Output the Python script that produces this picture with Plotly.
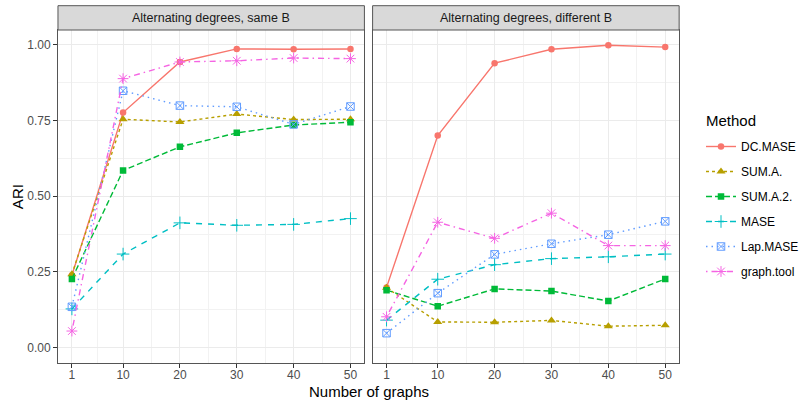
import plotly.graph_objects as go

n_graphs = [1, 10, 20, 30, 40, 50]
methods = ["DC.MASE", "SUM.A.", "SUM.A.2.", "MASE", "Lap.MASE", "graph.tool"]
panel_titles = ["Alternating degrees, same B", "Alternating degrees, different B"]
y_ticks = [0.0, 0.25, 0.5, 0.75, 1.0]
y_tick_labels = ["0.00", "0.25", "0.50", "0.75", "1.00"]

# Panel 1: same B
same_dc_mase = [0.239, 0.776, 0.943, 0.986, 0.985, 0.986]
same_sum_a = [0.242, 0.754, 0.745, 0.771, 0.753, 0.754]
same_sum_a2 = [0.227, 0.585, 0.663, 0.709, 0.735, 0.744]
same_mase = [0.128, 0.309, 0.412, 0.404, 0.407, 0.426]
same_lap_mase = [0.135, 0.848, 0.799, 0.795, 0.737, 0.796]
same_graph_tool = [0.055, 0.888, 0.943, 0.947, 0.956, 0.954]

# Panel 2: different B
diff_dc_mase = [0.199, 0.700, 0.939, 0.985, 0.998, 0.992]
diff_sum_a = [0.198, 0.085, 0.084, 0.090, 0.071, 0.074]
diff_sum_a2 = [0.190, 0.137, 0.194, 0.187, 0.154, 0.227]
diff_mase = [0.091, 0.226, 0.274, 0.294, 0.300, 0.309]
diff_lap_mase = [0.048, 0.180, 0.308, 0.343, 0.373, 0.417]
diff_graph_tool = [0.102, 0.414, 0.361, 0.444, 0.337, 0.337]

panels = [
    [same_dc_mase, same_sum_a, same_sum_a2, same_mase, same_lap_mase, same_graph_tool],
    [diff_dc_mase, diff_sum_a, diff_sum_a2, diff_mase, diff_lap_mase, diff_graph_tool],
]

colors = ["#F8766D", "#B79F00", "#00BA38", "#00BFC4", "#619CFF", "#F564E3"]
dashes = ["solid", "3px,3px", "6px,3px", "6px,6px", "1.5px,4px", "1.5px,4px,6px,4px"]
symbols = ["circle", "triangle-up", "square", "cross-thin-open", "square-x-open", "asterisk-open"]
sizes = [6.5, 8, 6.5, 9, 7.5, 9]
open_sym = [False, False, False, True, True, True]

W, H = 804, 400
def px_x(p):
    return p / W
def px_y(p):
    return 1 - p / H

x_dom = [[px_x(58.7), px_x(369.0)], [px_x(377.3), px_x(687.7)]]
y_dom = [px_y(362.7), px_y(30.0)]
strip_top = px_y(5.7)

fig = go.Figure()
for pi, series in enumerate(panels):
    xa = "x" if pi == 0 else "x2"
    ya = "y" if pi == 0 else "y2"
    for mi, m in enumerate(methods):
        fig.add_trace(go.Scatter(
            x=n_graphs, y=series[mi], mode="lines+markers", name=m,
            xaxis=xa, yaxis=ya, legendgroup=m, showlegend=(pi == 0),
            line=dict(color=colors[mi], width=1.4, dash=dashes[mi]),
            marker=dict(symbol=symbols[mi], size=sizes[mi], color=colors[mi],
                        line=dict(color=colors[mi], width=1 if open_sym[mi] else 0)),
        ))

grid_major = "#EBEBEB"
border = "#555555"
minor_x = [5.5, 15, 25, 35, 45]
minor_y = [0.125, 0.375, 0.625, 0.875]
tickfont = dict(family="Liberation Sans, Arial", size=12, color="#4D4D4D")
common_x = dict(range=[-1.45, 52.45], tickvals=n_graphs, ticktext=[str(v) for v in n_graphs],
                showgrid=True, gridcolor=grid_major, gridwidth=1.1, zeroline=False,
                ticks="outside", ticklen=4, tickcolor="#333333", tickwidth=1,
                tickfont=tickfont, ticklabelstandoff=-3,
                showline=True, linecolor=border, linewidth=1, mirror=True,
                minor=dict(tickvals=minor_x, showgrid=True, gridcolor="#F2F2F2", gridwidth=0.6, ticks=""))
common_y = dict(range=[-0.0495, 1.0485], tickvals=y_ticks, ticktext=y_tick_labels,
                showgrid=True, gridcolor=grid_major, gridwidth=1.1, zeroline=False,
                ticklen=4, tickcolor="#333333", tickwidth=1,
                tickfont=tickfont,
                showline=True, linecolor=border, linewidth=1, mirror=True,
                minor=dict(tickvals=minor_y, showgrid=True, gridcolor="#F2F2F2", gridwidth=0.6, ticks=""),
                domain=y_dom)

fig.update_layout(
    width=W, height=H, margin=dict(l=0, r=0, t=0, b=0),
    paper_bgcolor="white", plot_bgcolor="white",
    font=dict(family="Liberation Sans, Arial", size=12, color="#000000"),
    xaxis=dict(domain=x_dom[0], anchor="y", **common_x),
    xaxis2=dict(domain=x_dom[1], anchor="y2", **common_x),
    yaxis=dict(anchor="x", ticks="outside", **common_y),
    yaxis2=dict(anchor="x2", ticks="", showticklabels=False, **common_y),
    legend=dict(x=px_x(710), y=px_y(132), xanchor="left", yanchor="top",
                font=dict(size=12, color="#000000"), traceorder="grouped",
                tracegroupgap=6, bgcolor="rgba(0,0,0,0)", itemwidth=30),
)

shapes = []
annotations = []
for pi in range(2):
    shapes.append(dict(type="rect", xref="paper", yref="paper",
                       x0=x_dom[pi][0], x1=x_dom[pi][1], y0=y_dom[1], y1=strip_top,
                       fillcolor="#D9D9D9", line=dict(color=border, width=1), layer="above"))
    annotations.append(dict(text=panel_titles[pi], xref="paper", yref="paper",
                            x=(x_dom[pi][0] + x_dom[pi][1]) / 2, y=(y_dom[1] + strip_top) / 2,
                            showarrow=False, xanchor="center", yanchor="middle",
                            font=dict(size=12.5, color="#1A1A1A")))
annotations.append(dict(text="ARI", xref="paper", yref="paper", x=px_x(18), y=(y_dom[0] + y_dom[1]) / 2,
                        textangle=-90, showarrow=False, xanchor="center", yanchor="middle",
                        font=dict(size=15, color="#000000")))
annotations.append(dict(text="Number of graphs", xref="paper", yref="paper", x=(x_dom[0][0] + x_dom[1][1]) / 2,
                        y=px_y(391), showarrow=False, xanchor="center", yanchor="middle",
                        font=dict(size=15, color="#000000")))
annotations.append(dict(text="Method", xref="paper", yref="paper", x=px_x(713), y=px_y(120),
                        showarrow=False, xanchor="left", yanchor="middle",
                        font=dict(size=15, color="#000000")))
fig.update_layout(shapes=shapes, annotations=annotations)

fig.write_html("out.html", config={"displayModeBar": False},
               post_script="document.body.style.margin='0';document.body.style.overflow='hidden';")
